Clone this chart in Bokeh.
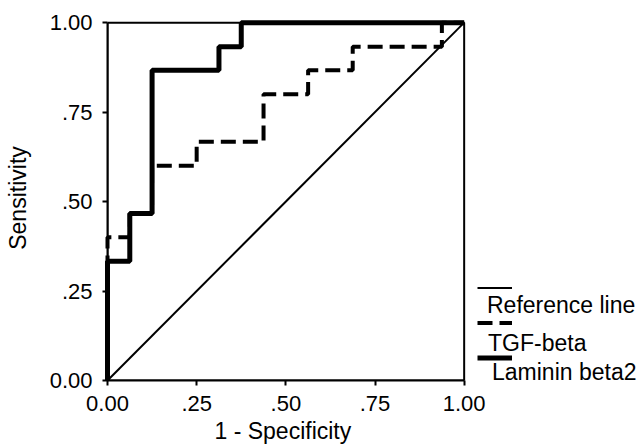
from bokeh.plotting import figure
from bokeh.models import Range1d, FixedTicker, Legend, LegendItem, Label, BoxAnnotation, Title
from bokeh.embed import file_html
from bokeh.resources import INLINE

# ---- data (ROC points: 1 - specificity, sensitivity) ----
ref_fpr = [0.0, 1.0]
ref_tpr = [0.0, 1.0]

tgf_fpr = [0.0, 0.0, 0.0625, 0.125, 0.25, 0.4375, 0.5625, 0.6875, 0.9375, 1.0]
tgf_tpr = [0.0, 0.4, 0.467, 0.6, 0.667, 0.8, 0.867, 0.933, 1.0, 1.0]

lam_fpr = [0.0, 0.0, 0.0625, 0.125, 0.3125, 0.375, 1.0]
lam_tpr = [0.0, 0.333, 0.467, 0.867, 0.933, 1.0, 1.0]

tick_values = [0.0, 0.25, 0.5, 0.75, 1.0]
tick_labels = ["0.00", ".25", ".50", ".75", "1.00"]
series_names = ["Reference line", "TGF-beta", "Laminin beta2"]
x_title = "1 - Specificity"
y_title = "Sensitivity"

FONT = "Liberation Sans"

# frame extends to the right so that the legend (outside the ROC box) is not clipped
p = figure(width=642, height=448, output_backend="svg", toolbar_location=None,
           x_range=Range1d(0, 1.5), y_range=Range1d(0, 1.02),
           min_border_left=107, min_border_right=0, min_border_top=15, min_border_bottom=68)
p.xgrid.visible = False
p.ygrid.visible = False
p.outline_line_color = None
p.background_fill_color = "white"

overrides = {v: l for v, l in zip(tick_values, tick_labels)}
for ax in (p.xaxis, p.yaxis):
    ax.ticker = FixedTicker(ticks=tick_values)
    ax.bounds = (0, 1)
    ax.major_label_overrides = overrides
    ax.major_label_text_font = FONT
    ax.major_label_text_font_size = "22px"
    ax.major_label_text_color = "black"
    ax.axis_line_color = "black"
    ax.axis_line_width = 2
    ax.major_tick_line_color = "black"
    ax.major_tick_line_width = 2
    ax.major_tick_out = 5
    ax.major_tick_in = 0
    ax.minor_tick_line_color = None
    ax.major_label_standoff = 10
    ax.axis_label_text_font = FONT
    ax.axis_label_text_font_size = "23px"
    ax.axis_label_text_font_style = "normal"
    ax.axis_label_text_color = "black"

p.yaxis.axis_label = y_title
p.yaxis.axis_label_standoff = 16

# x-axis title, centred under the ROC box (not under the wider frame)
p.add_layout(Title(text=x_title, align="left", offset=107, standoff=5,
                   text_font=FONT, text_font_size="23px", text_font_style="normal",
                   text_color="black"), "below")

# ROC box (top and right edges of the plot area)
p.add_layout(BoxAnnotation(left=0, right=1, bottom=0, top=1, fill_alpha=0,
                           line_color="black", line_alpha=1.0, line_width=2))

r_ref = p.line(ref_fpr, ref_tpr, line_color="black", line_width=2)
r_tgf = p.step(tgf_fpr, tgf_tpr, mode="after", line_color="black", line_width=4,
               line_dash="15 7")
r_lam = p.step(lam_fpr, lam_tpr, mode="after", line_color="black", line_width=5)
for r in (r_ref, r_tgf, r_lam):
    r.level = "overlay"

# legend line samples (texts are placed underneath each sample)
legend = Legend(items=[LegendItem(label=" ", renderers=[r]) for r in (r_ref, r_tgf, r_lam)],
                location=(370, 5.5), padding=0, margin=0, spacing=0,
                glyph_width=35, glyph_height=35, label_height=35, label_width=1,
                label_text_font_size="2px", label_standoff=0,
                background_fill_alpha=0, border_line_alpha=0)
p.add_layout(legend)

legend_x = [1.064, 1.067, 1.078]
legend_y = [0.212, 0.106, 0.025]
for name, lx, ly in zip(series_names, legend_x, legend_y):
    p.add_layout(Label(x=lx, y=ly, text=name, text_font=FONT, text_font_size="23px",
                       text_color="black", text_baseline="alphabetic", text_align="left"))

open("out.html", "w").write(file_html(p, INLINE))
